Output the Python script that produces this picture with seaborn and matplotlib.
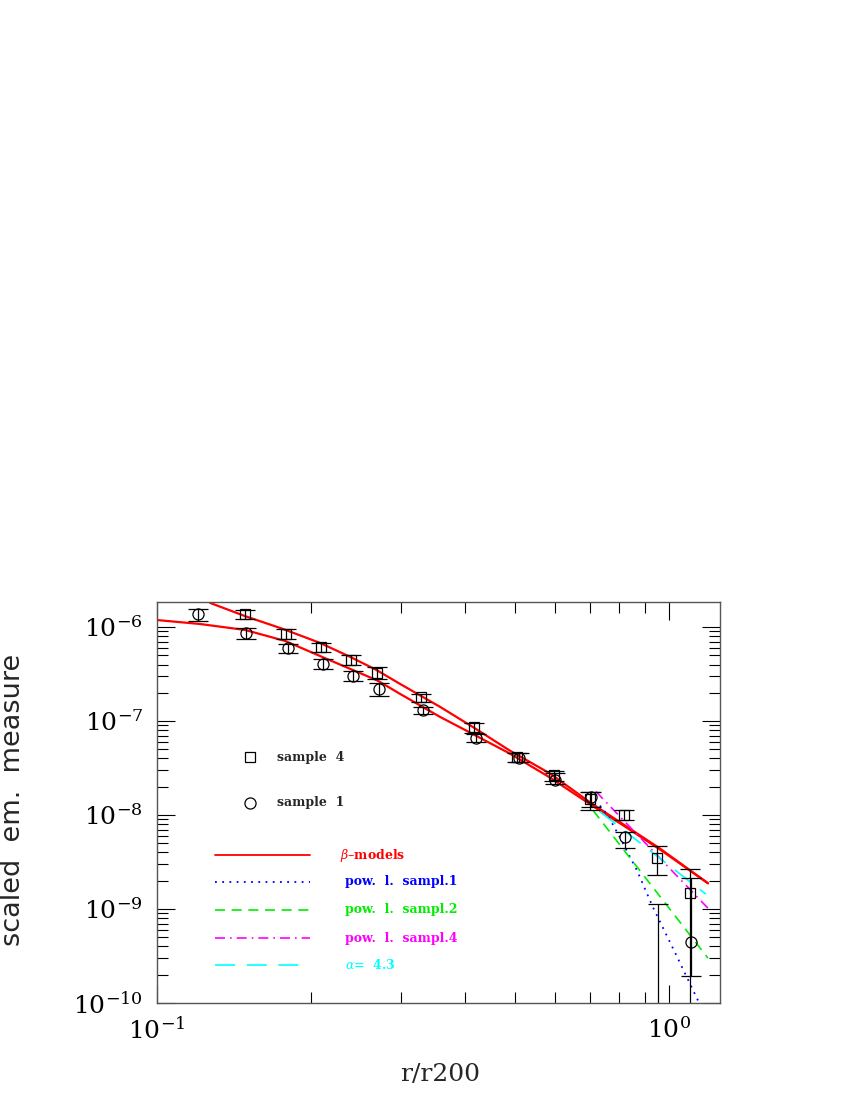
import numpy as np
import pandas as pd
import seaborn as sns
import matplotlib
matplotlib.use("Agg")
import matplotlib.pyplot as plt
from matplotlib.ticker import NullFormatter

# sample 4 (squares): r/r200, value, lower / upper error limits
s4_r = [0.1486, 0.1787, 0.2089, 0.2393, 0.269, 0.328, 0.416, 0.505, 0.596, 0.702, 0.817, 0.948, 1.099]
s4_em = [1.38e-6, 8.47e-7, 6.17e-7, 4.49e-7, 3.27e-7, 1.82e-7, 8.73e-8, 4.19e-8, 2.70e-8, 1.47e-8, 9.9e-9, 3.46e-9, 1.47e-9]
s4_lo = [1.22e-6, 7.50e-7, 5.46e-7, 3.97e-7, 2.82e-7, 1.61e-7, 7.53e-8, 3.71e-8, 2.33e-8, 1.12e-8, 8.77e-9, 2.29e-9, 1e-12]
s4_hi = [1.52e-6, 9.57e-7, 6.79e-7, 5.07e-7, 3.78e-7, 1.95e-7, 9.62e-8, 4.62e-8, 2.97e-8, 1.78e-8, 1.12e-8, 4.64e-9, 2.65e-9]

# sample 1 (circles)
s1_r = [0.1202, 0.149, 0.180, 0.211, 0.242, 0.272, 0.331, 0.42, 0.51, 0.60, 0.705, 0.82, 0.952, 1.104]
s1_em = [1.38e-6, 8.67e-7, 6.01e-7, 4.06e-7, 3.03e-7, 2.21e-7, 1.32e-7, 6.67e-8, 4.09e-8, 2.39e-8, 1.54e-8, 5.78e-9, 5e-11, 4.45e-10]
s1_lo = [1.16e-6, 7.50e-7, 5.32e-7, 3.60e-7, 2.69e-7, 1.86e-7, 1.20e-7, 6.04e-8, 3.71e-8, 2.16e-8, 1.23e-8, 4.41e-9, 1e-12, 1.94e-10]
s1_hi = [1.56e-6, 9.82e-7, 6.64e-7, 4.59e-7, 3.43e-7, 2.56e-7, 1.42e-7, 7.34e-8, 4.52e-8, 2.77e-8, 1.78e-8, 6.53e-9, 1.12e-9, 2.12e-9]

# beta-model curves
beta4_r = [0.127, 0.1486, 0.1762, 0.2082, 0.2383, 0.2678, 0.2983, 0.357, 0.416, 0.489, 0.5856, 0.702, 0.820, 0.960, 1.192]
beta4_em = [1.81e-6, 1.31e-6, 9.57e-7, 6.79e-7, 4.83e-7, 3.52e-7, 2.49e-7, 1.42e-7, 8.51e-8, 4.85e-8, 2.77e-8, 1.36e-8, 7.77e-9, 4.41e-9, 1.88e-9]
beta1_r = [0.1, 0.1213, 0.1486, 0.1778, 0.210, 0.2383, 0.270, 0.2983, 0.357, 0.416, 0.489, 0.5856, 0.702, 0.820, 0.960, 1.192]
beta1_em = [1.19e-6, 1.08e-6, 9.33e-7, 7.14e-7, 4.83e-7, 3.60e-7, 2.69e-7, 1.95e-7, 1.11e-7, 7.18e-8, 4.51e-8, 2.51e-8, 1.30e-8, 7.57e-9, 4.31e-9, 1.88e-9]

# power-law fits
pl1_r = [0.733, 0.760, 0.802, 0.866, 0.931, 1.027, 1.139, 1.176]
pl1_em = [1.26e-8, 9.9e-9, 5.78e-9, 2.58e-9, 1.04e-9, 3.47e-10, 1.07e-10, 7.5e-11]
pl2_r = [0.711, 1.192]
pl2_em = [1.12e-8, 3.0e-10]
pl4_r = [0.720, 1.192]
pl4_em = [1.78e-8, 1.02e-9]
alpha_r = [0.733, 1.181]
alpha_em = [1.09e-8, 1.44e-9]

sns.set_style("ticks")
plt.rcParams["font.family"] = ["DejaVu Serif", "DejaVu Sans"]
plt.rcParams["mathtext.fontset"] = "dejavuserif"

fig = plt.figure(figsize=(8.5, 11), dpi=100)
ax = fig.add_axes([0.1847, 0.0882, 0.6623, 0.3645])
ax.set_xscale("log")
ax.set_yscale("log")

curves = [
    (beta4_r, beta4_em, "#ff0000", "-", 1.6),
    (beta1_r, beta1_em, "#ff0000", "-", 1.6),
    (pl1_r, pl1_em, "#0000ff", (0, (1, 3)), 1.3),
    (pl2_r, pl2_em, "#00ee00", (0, (6, 4)), 1.2),
    (pl4_r, pl4_em, "#ff00ff", (0, (6, 3, 1, 3)), 1.2),
    (alpha_r, alpha_em, "#00ffff", (0, (12, 7)), 1.2),
]
for r, em, col, ls, lw in curves:
    d = pd.DataFrame({"r": r, "em": em})
    sns.lineplot(data=d, x="r", y="em", color=col, linestyle=ls, lw=lw, ax=ax, sort=False, estimator=None)

s4_err = [np.array(s4_em) - np.array(s4_lo), np.array(s4_hi) - np.array(s4_em)]
s1_err = [np.array(s1_em) - np.array(s1_lo), np.array(s1_hi) - np.array(s1_em)]
ax.errorbar(s4_r, s4_em, yerr=s4_err, fmt="s", mfc="none", mec="black", ms=7,
            ecolor="black", elinewidth=0.9, capsize=7, capthick=0.9, mew=0.9)
ax.errorbar(s1_r, s1_em, yerr=s1_err, fmt="o", mfc="none", mec="black", ms=8,
            ecolor="black", elinewidth=0.9, capsize=7, capthick=0.9, mew=0.9)

ax.set_xlim(0.1, 1.258)
ax.set_ylim(1e-10, 1.85e-6)

# legend drawn inside the axes
tr = ax.transAxes
ax.plot([0.165], [0.613], "s", mfc="none", mec="black", ms=7, mew=0.9, transform=tr)
ax.plot([0.165], [0.499], "o", mfc="none", mec="black", ms=8, mew=0.9, transform=tr)
ax.text(0.213, 0.613, "sample  4", transform=tr, va="center", fontsize=9, fontweight="bold")
ax.text(0.213, 0.499, "sample  1", transform=tr, va="center", fontsize=9, fontweight="bold")

leg_items = [
    ("#ff0000", "-", 1.3, 0.369, r"$\beta$–models", 0.325),
    ("#0000ff", (0, (1, 3)), 1.3, 0.302, "pow.  l.  sampl.1", 0.334),
    ("#00ee00", (0, (6, 4)), 1.2, 0.232, "pow.  l.  sampl.2", 0.334),
    ("#ff00ff", (0, (6, 3, 1, 3)), 1.2, 0.162, "pow.  l.  sampl.4", 0.334),
    ("#00ffff", (0, (12, 7)), 1.2, 0.095, r"$\alpha$=  4.3", 0.334),
]
for col, ls, lw, yy, lab, xt in leg_items:
    ax.plot([0.103, 0.272], [yy, yy], color=col, linestyle=ls, lw=lw, transform=tr)
    ax.text(xt, yy, lab, color=col, transform=tr, va="center", fontsize=9, fontweight="bold")

ax.tick_params(which="both", direction="in", top=True, right=True, colors="black")
ax.tick_params(which="major", length=13, width=0.8, labelsize=18, pad=10)
ax.tick_params(which="minor", length=8, width=0.8)
ax.xaxis.set_minor_formatter(NullFormatter())
ax.yaxis.set_minor_formatter(NullFormatter())
for sp in ax.spines.values():
    sp.set_color("#555555")
    sp.set_linewidth(1.0)

ax.set_xlabel("r/r200", fontsize=18, family="DejaVu Serif")
ax.xaxis.set_label_coords(0.503, -0.15)
ax.set_ylabel("scaled  em.  measure", fontsize=19.5, family="DejaVu Sans")
ax.yaxis.set_label_coords(-0.232, 0.506)

fig.savefig("out.png", dpi=100)
